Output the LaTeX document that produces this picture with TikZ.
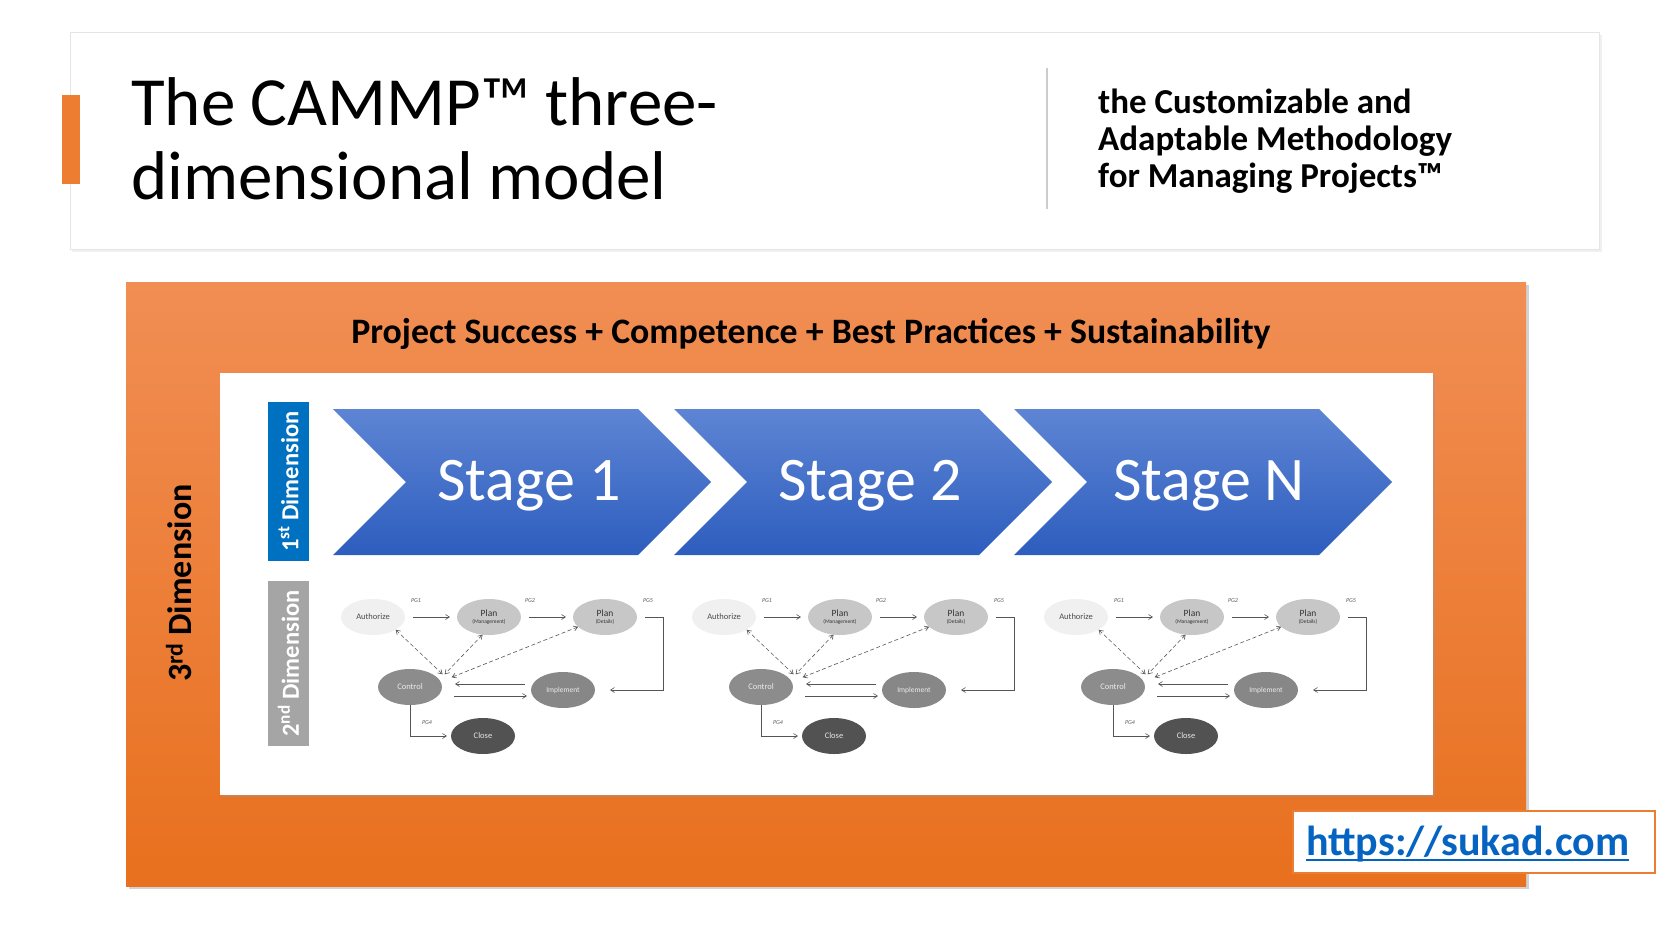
\documentclass[tikz,border=0pt]{standalone}
\usepackage{fontspec}
\setmainfont{Carlito}
\usetikzlibrary{arrows.meta,shapes.geometric}
\definecolor{accent}{HTML}{ED7D31}
\definecolor{orangetop}{RGB}{241,142,84}
\definecolor{orangebot}{RGB}{232,112,30}
\definecolor{blueA}{RGB}{94,133,212}
\definecolor{blueB}{RGB}{45,93,190}
\definecolor{dimblue}{HTML}{0070C0}
\definecolor{dimgrey}{HTML}{A5A5A5}
\definecolor{linkblue}{HTML}{0563C1}
\definecolor{lineg}{HTML}{555555}
\tikzset{
  pnode/.style={ellipse, minimum width=64pt, minimum height=36pt, inner sep=0pt, outer sep=0pt, align=center},
  pgl/.style={font=\fontsize{6}{7}\selectfont\itshape, text=black!65, inner sep=0pt},
  arr/.style={draw=lineg, line width=0.6pt, -{Straight Barb[length=4pt,width=5pt]}},
  darr/.style={draw=lineg, line width=0.6pt, dashed, dash pattern=on 4pt off 2.5pt, {Straight Barb[length=4pt,width=5pt]}-{Straight Barb[length=4pt,width=5pt]}},
  stagetxt/.style={anchor=base, text=white, font=\fontsize{62}{70}\selectfont, inner sep=0pt},
  dimlabel/.style={rotate=90, text=white, font=\fontsize{24.5}{26}\selectfont\bfseries, inner sep=0pt, outer sep=0pt},
}
\begin{document}
\begin{tikzpicture}[x=1pt,y=-1pt]
\useasboundingbox (0,0) rectangle (1669,924);
\fill[white] (0,0) rectangle (1669,924);

% title box
\fill[black!6] (72,35) rectangle (1602,252);
\draw[fill=white, draw=black!10] (70,32) rectangle (1599,249);
\fill[accent] (62,95) rectangle (80,184);
\node[anchor=base west, inner sep=0pt, font=\fontsize{69}{80}\selectfont] (t1) at (131,125) {The CAMMP™ three-};
\node[anchor=base west, inner sep=0pt, font=\fontsize{69}{80}\selectfont] (t2) at (131,199) {dimensional model};
\draw[black!20, line width=1.5pt] (1047,68) -- (1047,209);
\node[anchor=base west, inner sep=0pt, font=\fontsize{35}{36}\selectfont\bfseries] (s1) at (1098,113) {the Customizable and};
\node[anchor=base west, inner sep=0pt, font=\fontsize{35}{36}\selectfont\bfseries] (s2) at (1098,150) {Adaptable Methodology};
\node[anchor=base west, inner sep=0pt, font=\fontsize{35}{36}\selectfont\bfseries] (s3) at (1098,187) {for Managing Projects™};

% orange frame
\fill[black!35, opacity=0.5] (129,285) rectangle (1529,889);
\shade[top color=orangetop, bottom color=orangebot] (126,282) rectangle (1526,886);
\node[anchor=base, inner sep=0pt, font=\fontsize{35.8}{38}\selectfont\bfseries] (hdr) at (811,343) {Project Success + Competence + Best Practices + Sustainability};
\fill[black!40, opacity=0.4] (222,375) rectangle (1435,797);
\fill[white] (220,373) rectangle (1433,795);

% dimension labels
\node[fill=dimblue, minimum width=159pt, minimum height=41pt, dimlabel] (d1) at (288.5,481.5) {1\textsuperscript{st} Dimension};
\node[fill=dimgrey, minimum width=165pt, minimum height=41pt, dimlabel] (d2) at (288.5,663.5) {2\textsuperscript{nd} Dimension};
\node[rotate=90, inner sep=0pt, font=\fontsize{34}{36}\selectfont\bfseries] (d3) at (179,583) {3\textsuperscript{rd} Dimension};

% chevrons
\foreach \L/\R in {333/711, 674/1052, 1014/1392}{
  \shade[top color=blueA, bottom color=blueB]
    (\L,409) -- ({\R-73},409) -- (\R,482) -- ({\R-73},555) -- (\L,555) -- ({\L+73},482) -- cycle;
}
\node[stagetxt] (st1) at (529,500) {Stage 1};
\node[stagetxt] (st2) at (870,500) {Stage 2};
\node[stagetxt] (stn) at (1209,500) {Stage N};

% process diagrams
\foreach \d/\i in {0/a, 351/b, 703/c}{
\begin{scope}[xshift=\d pt]
  \node[pnode, fill=black!6, text=black!70, font=\fontsize{8.5}{9}\selectfont] (auth\i) at (373,617) {Authorize};
  \node[pnode, fill=black!22, text=black!80, font=\fontsize{9.5}{8}\selectfont] (planm\i) at (489,617) {Plan\\[-1pt]{\fontsize{5.5}{5}\selectfont(Management)}};
  \node[pnode, fill=black!22, text=black!80, font=\fontsize{9.5}{8}\selectfont] (pland\i) at (605,617) {Plan\\[-1pt]{\fontsize{5.5}{5}\selectfont(Details)}};
  \node[pnode, fill=black!45, text=white!92!black, font=\fontsize{8.5}{9}\selectfont] (ctrl\i) at (410,687) {Control};
  \node[pnode, fill=black!47, text=white!92!black, font=\fontsize{7.5}{8}\selectfont] (impl\i) at (563,690) {Implement};
  \node[pnode, fill=black!68, text=white!90!black, font=\fontsize{8.5}{9}\selectfont] (close\i) at (483,736) {Close};
  \node[pgl] (pga\i) at (416,601) {PG1};
  \node[pgl] (pgb\i) at (530,601) {PG2};
  \node[pgl] (pgc\i) at (648,601) {PG5};
  \node[pgl] (pgd\i) at (427,723) {PG4};
  \draw[arr, shorten <=8pt, shorten >=7pt] (auth\i.east) -- (planm\i.west);
  \draw[arr, shorten <=8pt, shorten >=7pt] (planm\i.east) -- (pland\i.west);
  \draw[arr] ([xshift=8pt]pland\i.east) -- ++(18,0) |- ([xshift=15pt]impl\i.east);
  \draw[arr] ([xshift=-6pt,yshift=6pt]impl\i.west) -- ([xshift=13pt,yshift=3pt]ctrl\i.east);
  \draw[arr] ([xshift=12pt,yshift=-9pt]ctrl\i.east) -- ([xshift=-4pt,yshift=-6pt]impl\i.west);
  \draw[arr] (ctrl\i.south) |- ([xshift=-4pt]close\i.west);
  \draw[darr] (auth\i.south east) -- ([xshift=10pt]ctrl\i.north east);
  \draw[darr] (planm\i.250) -- ([xshift=12pt]ctrl\i.north east);
  \draw[darr] (pland\i.200) -- ([xshift=19pt,yshift=-3pt]ctrl\i.north east);
\end{scope}
}

% url
\node[draw=accent, line width=1.5pt, fill=white, minimum width=362pt, minimum height=62pt, inner sep=0pt] (urlbox) at (1474,842) {};
\node[anchor=base west, inner sep=0pt, text=linkblue, font=\fontsize{42}{44}\selectfont\bfseries] (url) at (1306,855) {https://sukad.com};
\draw[linkblue, line width=2pt] ([yshift=-5pt]url.base west) -- ([yshift=-5pt]url.base east);
\end{tikzpicture}
\end{document}
